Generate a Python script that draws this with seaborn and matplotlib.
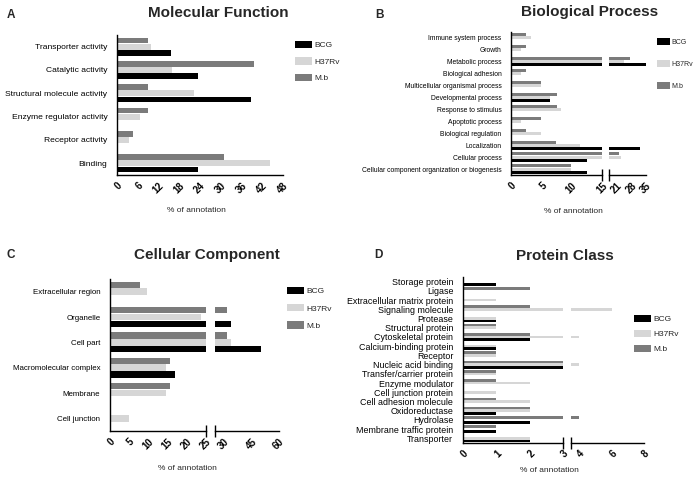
import matplotlib
matplotlib.use("Agg")
import matplotlib.pyplot as plt
import seaborn as sns
import pandas as pd
from matplotlib.patches import Patch

# --------------------------------------------------------------------------- #
# Data (% of annotation)
# --------------------------------------------------------------------------- #
mf_cats = ["Transporter activity", "Catalytic activity", "Structural molecule activity",
           "Enzyme regulator activity", "Receptor activity", "Binding"]
mf_bcg = [15.6, 23.3, 38.8, 0, 0, 23.3]
mf_h37 = [9.7, 15.9, 22.3, 6.6, 3.4, 44.2]
mf_mb = [9.0, 39.5, 9.0, 9.0, 4.7, 30.8]

bp_cats = ["Immune system process", "Growth", "Metabolic process", "Biological adhesion",
           "Multicellular organismal process", "Developmental process",
           "Response to stimulus", "Apoptotic process", "Biological regulation",
           "Localization", "Cellular process",
           "Cellular component organization or biogenesis"]
bp_bcg = [0, 0, 35.0, 0, 0, 6.4, 0, 0, 0, 32.5, 12.6, 12.6]
bp_h37 = [3.3, 1.7, 24.4, 1.7, 4.9, 6.5, 8.2, 1.7, 4.9, 11.4, 22.7, 9.9]
bp_mb = [2.5, 2.5, 27.4, 2.5, 5.0, 7.5, 7.5, 5.0, 2.5, 7.4, 22.0, 9.9]

cc_cats = ["Extracellular region", "Organelle", "Cell part", "Macromolecular complex",
           "Membrane", "Cell junction"]
cc_bcg = [0, 33.6, 50.4, 16.8, 0, 0]
cc_h37 = [9.7, 23.6, 33.8, 14.5, 14.5, 5.0]
cc_mb = [7.9, 31.5, 31.5, 15.7, 15.7, 0]

pc_cats = ["Storage protein", "Ligase", "Extracellular matrix protein", "Signaling molecule",
           "Protease", "Structural protein", "Cytoskeletal protein",
           "Calcium-binding protein", "Receptor", "Nucleic acid binding",
           "Transfer/carrier protein", "Enzyme modulator", "Cell junction protein",
           "Cell adhesion molecule", "Oxidoreductase", "Hydrolase",
           "Membrane traffic protein", "Transporter"]
pc_bcg = [1, 0, 0, 0, 1, 0, 2, 1, 0, 3, 0, 0, 0, 0, 1, 2, 1, 2]
pc_h37 = [0, 0, 1, 6, 1, 1, 4, 1, 1, 4, 1, 2, 1, 2, 2, 0, 0, 2]
pc_mb = [0, 2, 0, 2, 0, 1, 2, 0, 1, 3, 1, 1, 0, 1, 2, 4, 1, 0]

strains = ["BCG", "H37Rv", "M.b"]
hue_order = ["M.b", "H37Rv", "BCG"]  # drawn top -> bottom inside each group
palette = {"BCG": "#000000", "H37Rv": "#d6d6d6", "M.b": "#7b7b7b"}

W, H = 696, 478

sns.set_theme(style="white")
plt.rcParams["font.family"] = ["Liberation Sans", "DejaVu Sans"]


def long_df(cats, bcg, h37, mb):
    n = len(cats)
    return pd.DataFrame({
        "category": cats * 3,
        "strain": ["BCG"] * n + ["H37Rv"] * n + ["M.b"] * n,
        "value": list(bcg) + list(h37) + list(mb),
    })


def rect(x0, x1, ytop, ybot):
    return [x0 / W, 1 - ybot / H, (x1 - x0) / W, (ybot - ytop) / H]


def bars(ax, df, xlim, ticks, ytick_fs, first=True, break_right=False, gap=0.05,
         width=0.8):
    n = df["category"].nunique()
    sns.barplot(data=df, y="category", x="value", hue="strain", hue_order=hue_order,
                palette=palette, orient="h", width=width, gap=gap, saturation=1,
                errorbar=None, legend=False, linewidth=0, edgecolor="none", ax=ax)
    ax.set_xlim(*xlim)
    ax.set_xticks(ticks)
    ax.set_xticklabels([str(t) for t in ticks], rotation=45, ha="right",
                       rotation_mode="anchor", fontsize=7, fontweight="bold")
    ax.set_xlabel("")
    ax.set_ylabel("")
    for s in ["top", "right"]:
        ax.spines[s].set_visible(False)
    for s in ["left", "bottom"]:
        ax.spines[s].set_color("black")
        ax.spines[s].set_linewidth(1.0)
    ax.tick_params(axis="x", direction="out", length=3, width=1.0, pad=1, colors="black")
    if first:
        ax.tick_params(axis="y", direction="out", length=3, width=1.0, pad=4,
                       labelsize=ytick_fs, colors="black")
    else:
        ax.spines["left"].set_visible(False)
        ax.tick_params(axis="y", left=False, labelleft=False)
        ax.plot([0], [0], marker="|", ms=8, mew=1.0, color="black",
                transform=ax.transAxes, clip_on=False)
    if break_right:
        ax.plot([1], [0], marker="|", ms=8, mew=1.0, color="black",
                transform=ax.transAxes, clip_on=False)
    ax.set_ylim(n - 0.5, -0.5)


def legend(fig, x, y, spacing, fs=6, hl=2.0, hh=0.95):
    handles = [Patch(facecolor=palette[s], edgecolor="none", label=s) for s in strains]
    fig.legend(handles=handles, loc="upper left", bbox_to_anchor=(x / W, 1 - y / H),
               frameon=False, fontsize=fs, handlelength=hl, handleheight=hh,
               handletextpad=0.3, labelspacing=spacing, borderpad=0, borderaxespad=0)


def header(fig, letter, lx, ly, title, tx, ty):
    fig.text(lx / W, 1 - ly / H, letter, ha="center", va="center", fontsize=8.5,
             fontweight="bold")
    fig.text(tx / W, 1 - ty / H, title, ha="center", va="center", fontsize=11,
             fontweight="bold")


def xlabel(fig, x, y):
    fig.text(x / W, 1 - y / H, "% of annotation", ha="center", va="center", fontsize=6)


fig = plt.figure(figsize=(W / 100, H / 100), dpi=100)

# A: Molecular Function
df = long_df(mf_cats, mf_bcg, mf_h37, mf_mb)
ax = fig.add_axes(rect(117, 283, 35, 175))
bars(ax, df, (0, 48), list(range(0, 49, 6)), 6.1, gap=0.08)
header(fig, "A", 11, 15, "Molecular Function", 218, 13)
legend(fig, 295, 41, 0.95)
xlabel(fig, 196, 210)

# B: Biological Process (broken axis)
df = long_df(bp_cats, bp_bcg, bp_h37, bp_mb)
ax1 = fig.add_axes(rect(511, 602, 32, 175))
bars(ax1, df, (0, 15), [0, 5, 10, 15], 4.9, break_right=True)
ax2 = fig.add_axes(rect(609, 645.5, 32, 175))
bars(ax2, df, (17, 35), [21, 28, 35], 4.9, first=False)
header(fig, "B", 379, 15, "Biological Process", 590, 12)
legend(fig, 657, 38.5, 2.0, fs=5, hl=1.8, hh=1.15)
xlabel(fig, 573, 212)

# C: Cellular Component (broken axis)
df = long_df(cc_cats, cc_bcg, cc_h37, cc_mb)
ax1 = fig.add_axes(rect(110, 206, 279, 431))
bars(ax1, df, (0, 25), [0, 5, 10, 15, 20, 25], 5.7, break_right=True)
ax2 = fig.add_axes(rect(215, 279, 279, 431))
bars(ax2, df, (25, 60), [30, 45, 60], 5.7, first=False)
header(fig, "C", 11, 255, "Cellular Component", 207, 255)
legend(fig, 287, 287, 1.05)
xlabel(fig, 187, 468)

# D: Protein Class (broken axis)
df = long_df(pc_cats, pc_bcg, pc_h37, pc_mb)
ax1 = fig.add_axes(rect(463, 563, 277, 443))
bars(ax1, df, (0, 3), [0, 1, 2, 3], 6.4, break_right=True, gap=0, width=0.85)
ax2 = fig.add_axes(rect(571, 644, 277, 443))
bars(ax2, df, (3.5, 8), [4, 6, 8], 6.4, first=False, gap=0, width=0.85)
header(fig, "D", 378, 255, "Protein Class", 565, 256)
legend(fig, 634, 314.5, 0.8)
xlabel(fig, 549, 470)

fig.savefig("out.png", dpi=100)
